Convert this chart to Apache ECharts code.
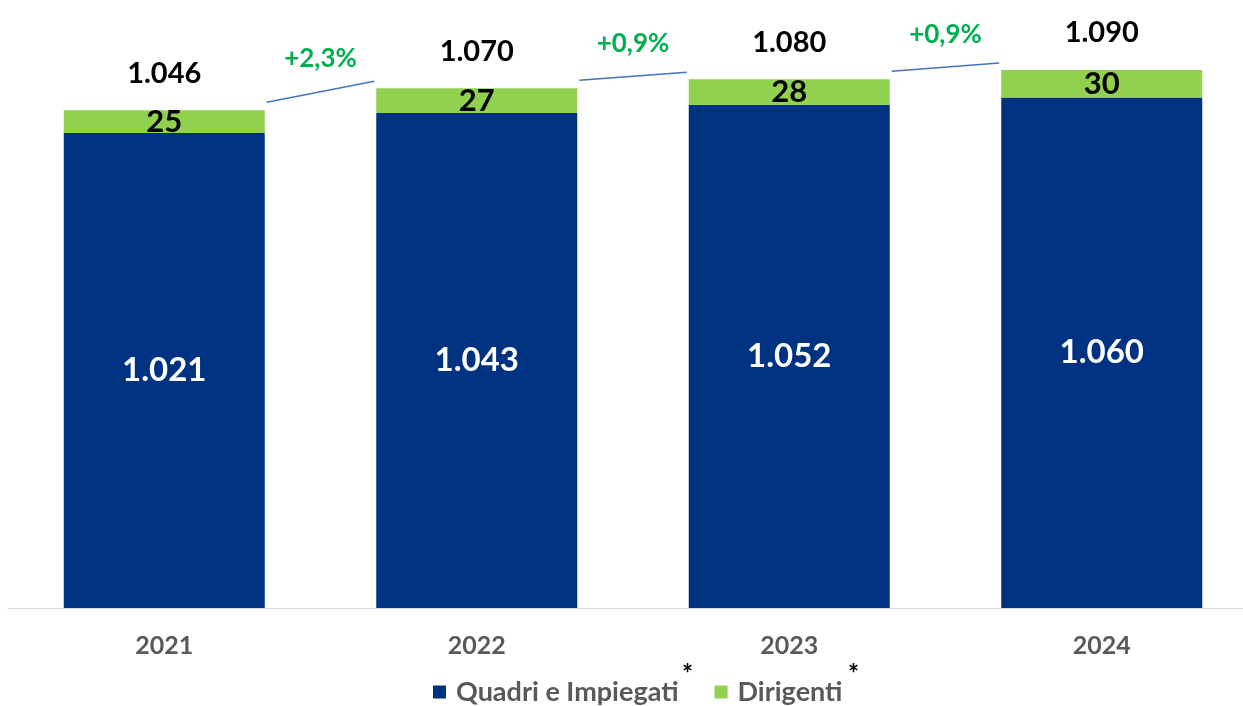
<!DOCTYPE html>
<html>
<head>
<meta charset="utf-8">
<script src="https://cdn.jsdelivr.net/npm/echarts@6/dist/echarts.min.js"></script>
<style>
html,body{margin:0;padding:0;background:#fff;}
#c{width:1243px;height:706px;}
</style>
</head>
<body>
<div id="c"></div>
<script>
const categories = ['2021', '2022', '2023', '2024'];
const quadri = [1021, 1043, 1052, 1060];
const dirigenti = [25, 27, 28, 30];
const totals = [1046, 1070, 1080, 1090];
const growthLabels = ['+2,3%', '+0,9%', '+0,9%'];

const FONT = 'Lato, Carlito, "Open Sans", sans-serif';
const BAR_W = 201;
const fmt = v => String(v).replace(/\B(?=(\d{3})+(?!\d))/g, '.');

const chart = echarts.init(document.getElementById('c'));
chart.setOption({
  animation: false,
  backgroundColor: '#ffffff',
  grid: { left: 8, top: 61, width: 1250, bottom: 98, containLabel: false, outerBoundsMode: 'none' },
  legend: {
    top: 677,
    left: 433,
    padding: 0,
    itemWidth: 13,
    itemHeight: 13,
    itemGap: 36,
    icon: 'rect',
    textStyle: { fontFamily: FONT, fontSize: 27, lineHeight: 30, fontWeight: 'bold', color: '#595959', padding: [0, 0, 0, 5] },
    data: ['Quadri e Impiegati', 'Dirigenti']
  },
  xAxis: {
    type: 'category',
    data: categories,
    axisLine: { lineStyle: { color: '#d9d9d9', width: 1 } },
    axisTick: { show: false },
    axisLabel: { fontFamily: FONT, fontSize: 25, fontWeight: 'bold', color: '#595959', margin: 25 }
  },
  yAxis: {
    type: 'value',
    min: 500,
    max: 1100,
    show: false,
    splitLine: { show: false }
  },
  series: [
    {
      name: 'Quadri e Impiegati',
      type: 'bar',
      stack: 't',
      barWidth: BAR_W,
      data: quadri,
      itemStyle: { color: '#003282' },
      label: {
        show: true, position: 'inside',
        formatter: p => fmt(p.value),
        fontFamily: FONT, fontSize: 33, fontWeight: 'bold', color: '#ffffff'
      }
    },
    {
      name: 'Dirigenti',
      type: 'bar',
      stack: 't',
      barWidth: BAR_W,
      data: dirigenti,
      itemStyle: { color: '#92d050' },
      label: {
        show: true, position: 'inside',
        formatter: p => fmt(p.value),
        fontFamily: FONT, fontSize: 31, fontWeight: 'bold', color: '#000000'
      }
    },
    {
      type: 'custom',
      name: 'totals',
      silent: true,
      data: totals.map((v, i) => [i, v]),
      renderItem: function (params, api) {
        const p = api.coord([api.value(0), api.value(1)]);
        return {
          type: 'text',
          style: {
            x: p[0], y: p[1] - 37, text: fmt(api.value(1)),
            align: 'center', verticalAlign: 'middle',
            font: 'bold 29px ' + FONT, fill: '#000000'
          }
        };
      }
    },
    {
      type: 'custom',
      name: 'growth',
      silent: true,
      data: growthLabels.map((g, i) => [i, totals[i]]),
      renderItem: function (params, api) {
        const i = params.dataIndex;
        const p0 = api.coord([i, totals[i]]);
        const p1 = api.coord([i + 1, totals[i + 1]]);
        const x0 = p0[0] + BAR_W / 2 + 2, y0 = p0[1] - 8;
        const x1 = p1[0] - BAR_W / 2 - 2, y1 = p1[1] - 7;
        return {
          type: 'group',
          children: [
            { type: 'line', shape: { x1: x0, y1: y0, x2: x1, y2: y1 },
              style: { stroke: '#4472c4', lineWidth: 1.5 } },
            { type: 'text', style: {
                x: (x0 + x1) / 2, y: (y0 + y1) / 2 - 33, text: growthLabels[i],
                align: 'center', verticalAlign: 'middle',
                font: 'bold 26px ' + FONT, fill: '#00b050' } }
          ]
        };
      }
    }
  ],
  graphic: [
    { type: 'text', left: 682, top: 662, style: { text: '*', font: 'bold 26px ' + FONT, fill: '#000' } },
    { type: 'text', left: 848, top: 662, style: { text: '*', font: 'bold 26px ' + FONT, fill: '#000' } }
  ]
});
</script>
</body>
</html>
